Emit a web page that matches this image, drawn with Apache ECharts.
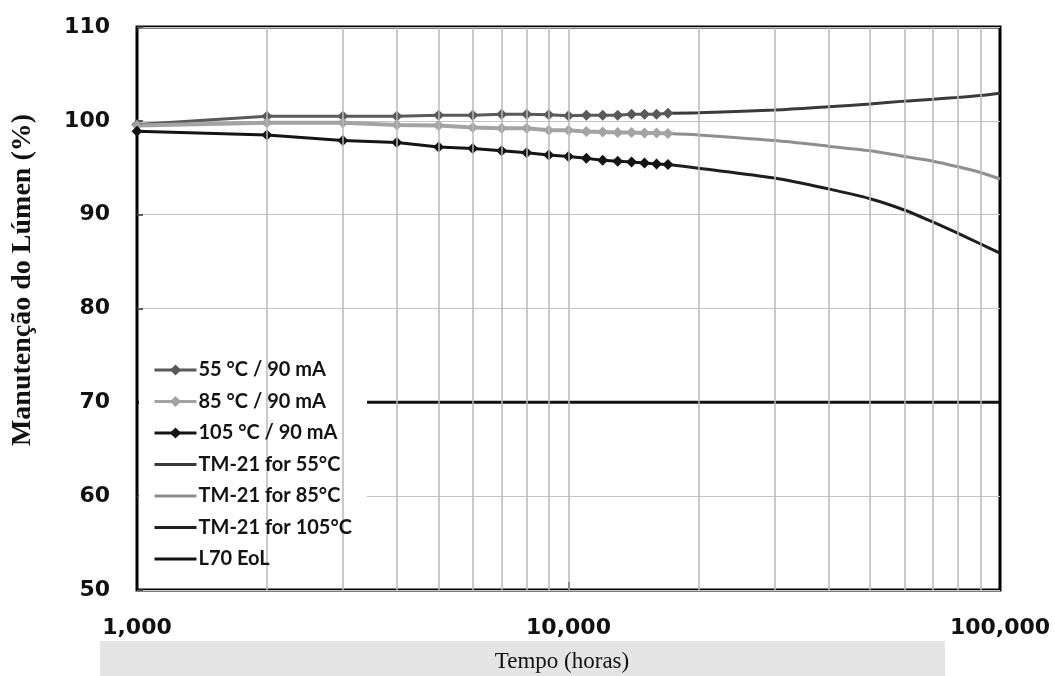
<!DOCTYPE html>
<html>
<head>
<meta charset="utf-8">
<script src="https://cdn.jsdelivr.net/npm/echarts@6/dist/echarts.min.js"></script>
<style>
html,body{margin:0;padding:0;background:#fff;}
#chart{width:1055px;height:676px;}
</style>
</head>
<body>
<div id="chart"></div>
<script>
// Measured hours (LM-80 data)
const hours = [1000,2000,3000,4000,5000,6000,7000,8000,9000,10000,11000,12000,13000,14000,15000,16000,17000];
const s55  = [99.6,100.5,100.5,100.5,100.6,100.6,100.7,100.7,100.65,100.55,100.6,100.6,100.6,100.7,100.7,100.7,100.8];
const s85  = [99.5,99.8,99.8,99.55,99.5,99.3,99.2,99.2,99.0,99.0,98.85,98.8,98.75,98.75,98.7,98.7,98.65];
const s105 = [98.9,98.5,97.9,97.7,97.2,97.05,96.8,96.6,96.35,96.2,96.0,95.8,95.7,95.6,95.5,95.4,95.35];
// TM-21 projections
const tmHours = [17000,20000,30000,40000,50000,60000,70000,80000,90000,100000];
const tm55  = [100.8,100.85,101.15,101.5,101.8,102.1,102.3,102.5,102.7,102.95];
const tm85  = [98.65,98.5,97.9,97.3,96.8,96.2,95.7,95.1,94.5,93.8];
const tm105 = [95.35,94.95,93.9,92.75,91.7,90.5,89.2,88.0,86.9,85.9];
// L70 end of life
const l70Hours = [1000,100000];
const l70 = [70,70];
// Axis
const xTicks = [1000,10000,100000];
const minorGrid = [2000,3000,4000,5000,6000,7000,8000,9000,10000,20000,30000,40000,50000,60000,70000,80000,90000];
const names = ['55 °C / 90 mA','85 °C / 90 mA','105 °C / 90 mA','TM-21 for 55°C','TM-21 for 85°C','TM-21 for 105°C','L70 EoL'];

const zip = (xs, ys) => xs.map((x,i)=>[x, ys[i]]);
const chart = echarts.init(document.getElementById('chart'), null, {renderer:'canvas'});

function dataSeries(name, xs, ys, color, width, withSymbol){
  return {
    name, type:'line', data: zip(xs, ys), z: 3,
    symbol: withSymbol ? 'diamond' : 'none', symbolSize: 11, showSymbol: withSymbol,
    smooth: withSymbol ? false : 0.3,
    lineStyle:{color, width}, itemStyle:{color},
    silent:true
  };
}

const option = {
  animation:false,
  backgroundColor:'#fff',
  grid:{left:137, right:55, top:27, bottom:86, show:true, borderColor:'#000', borderWidth:3, backgroundColor:'transparent'},
  xAxis:{
    type:'log', logBase:10, min:1000, max:100000,
    axisLine:{show:false},
    axisTick:{show:true, inside:true, length:8, lineStyle:{color:'#000', width:2}},
    splitLine:{show:false},
    axisLabel:{margin:27, color:'#111', fontFamily:'DejaVu Sans', fontWeight:'bold', fontSize:22,
      formatter:v=>Number(v).toLocaleString('en-US')}
  },
  yAxis:{
    type:'value', min:50, max:110, interval:10,
    axisLine:{show:false},
    axisTick:{show:true, inside:true, length:6, lineStyle:{color:'#333', width:1.5}},
    splitLine:{show:true, lineStyle:{color:'#c4c4c4', width:1}},
    axisLabel:{margin:27, color:'#111', fontFamily:'DejaVu Sans', fontWeight:'bold', fontSize:22}
  },
  legend:{
    data:names.map((n,i)=> i<3 ? {name:n} : {name:n, itemStyle:{opacity:0}}),
    orient:'vertical', left:153, top:359, padding:0,
    itemWidth:42, itemHeight:14, itemGap:9.5, z:10,
    lineStyle:{width:3},
    textStyle:{fontFamily:'Lato', fontWeight:'bold', fontSize:20, color:'#141414', lineHeight:22, padding:[0,0,0,-3]}
  },
  graphic:[
    {type:'rect', z:5, silent:true, shape:{x:139, y:350, width:228, height:230}, style:{fill:'#fff'}},
    {type:'rect', z:-1, silent:true, shape:{x:100, y:641, width:845, height:35}, style:{fill:'#e4e4e4'}},
    {type:'text', z:10, x:23, y:280, rotation:Math.PI/2,
      style:{text:'Manutenção do Lúmen (%)', fontFamily:'Liberation Serif', fontWeight:'bold', fontSize:28, fill:'#111', align:'center', verticalAlign:'middle'}},
    {type:'text', z:10, x:562, y:662,
      style:{text:'Tempo (horas)', fontFamily:'Liberation Serif', fontSize:23, fill:'#111', align:'center', verticalAlign:'middle'}}
  ],
  series:[
    {
      name:'grid', type:'line', data:[], silent:true, z:1,
      markLine:{silent:true, symbol:['none','none'], label:{show:false},
        lineStyle:{color:'#b8b8b8', width:1.5, type:'solid'},
        data: minorGrid.map(v=>({xAxis:v}))}
    },
    dataSeries(names[0], hours, s55, '#595959', 3, true),
    dataSeries(names[1], hours, s85, '#a3a3a3', 4, true),
    dataSeries(names[2], hours, s105, '#141414', 3, true),
    dataSeries(names[3], tmHours, tm55, '#3a3a3a', 3, false),
    dataSeries(names[4], tmHours, tm85, '#8e8e8e', 3, false),
    dataSeries(names[5], tmHours, tm105, '#1e1e1e', 3, false),
    dataSeries(names[6], l70Hours, l70, '#111', 3, false)
  ]
};
chart.setOption(option);
</script>
</body>
</html>
